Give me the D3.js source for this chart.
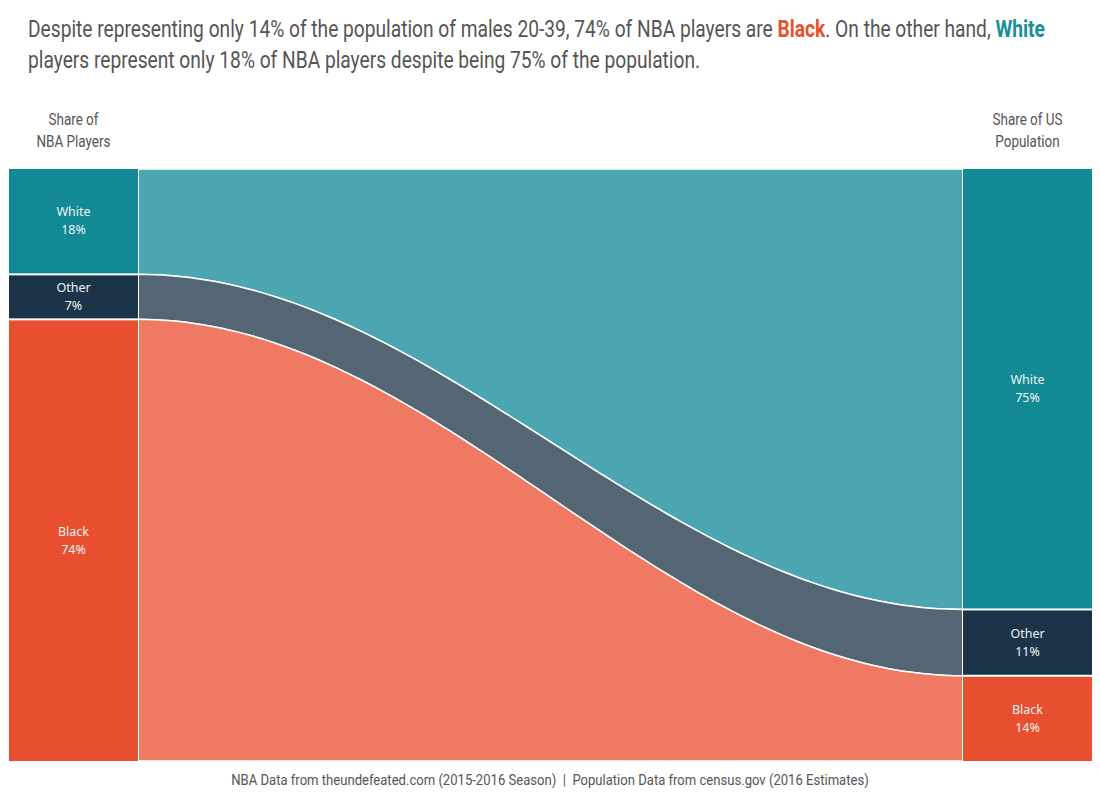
<!DOCTYPE html>
<html>
<head>
<meta charset="utf-8">
<script src="https://cdn.jsdelivr.net/npm/d3@7"></script>
<style>
  body { margin: 0; background: #fff; }
  .cond { font-family: Roboto, "DejaVu Sans", sans-serif; }
</style>
</head>
<body>
<div id="chart"></div>
<script>
// data
var groups = ["White", "Other", "Black"];
var nbaShare = [17.8, 7.6, 74.6];
var popShare = [74.4, 11.2, 14.4];
var nbaLabels = ["18%", "7%", "74%"];
var popLabels = ["75%", "11%", "14%"];
var nodeColors = ["#118a96", "#1b344a", "#e84f2f"];
var flowColors = ["#4ca6b1", "#546674", "#f07963"];

var width = 1100, height = 800;
var plotTop = 169, plotBottom = 761;
var leftX0 = 9, leftX1 = 138, rightX0 = 963, rightX1 = 1092;

var svg = d3.select("#chart")
  .append("svg")
    .attr("width", width)
    .attr("height", height);

// y scale in percent
var y = d3.scaleLinear().domain([0, 100]).range([plotTop, plotBottom]);

function stackUp(vals) {
  var acc = 0;
  return vals.map(function (v) {
    var d = {y0: acc, y1: acc + v};
    acc += v;
    return d;
  });
}
var leftStack = stackUp(nbaShare);
var rightStack = stackUp(popShare);

// flows (drawn first)
var t = d3.scaleLinear().domain([0, 1]).range([leftX1, rightX0]);
var steps = d3.range(0, 1.0001, 0.01);
var area = d3.area()
  .x(function (d) { return t(d.s); })
  .y0(function (d) { return d.a; })
  .y1(function (d) { return d.b; });

groups.forEach(function (g, i) {
  var L = leftStack[i], R = rightStack[i];
  var pts = steps.map(function (s) {
    var e = d3.easeSinInOut(s);
    return {
      s: s,
      a: y(L.y0) + (y(R.y0) - y(L.y0)) * e,
      b: y(L.y1) + (y(R.y1) - y(L.y1)) * e
    };
  });
  svg.append("path")
    .datum(pts)
    .attr("d", area)
    .attr("fill", flowColors[i])
    .attr("stroke", "#fff")
    .attr("stroke-width", 1.5);
});

// gaps between flows and nodes
svg.append("line").attr("x1", leftX1 + 0.5).attr("x2", leftX1 + 0.5)
  .attr("y1", plotTop).attr("y2", plotBottom).attr("stroke", "#fff");
svg.append("line").attr("x1", rightX0 - 0.5).attr("x2", rightX0 - 0.5)
  .attr("y1", plotTop).attr("y2", plotBottom).attr("stroke", "#fff");

// nodes
function drawNodes(stack, x0, x1, labels) {
  var g = svg.append("g");
  stack.forEach(function (d, i) {
    var y0 = y(d.y0) + (i > 0 ? 1 : 0);
    var y1 = y(d.y1) - (i < stack.length - 1 ? 1 : 0);
    g.append("rect")
      .attr("x", x0)
      .attr("y", y0)
      .attr("width", x1 - x0)
      .attr("height", y1 - y0)
      .attr("fill", nodeColors[i]);
    var cy = (y0 + y1) / 2;
    var txt = g.append("text")
      .attr("text-anchor", "middle")
      .style("font-family", "'Noto Sans', 'Open Sans', sans-serif")
      .style("font-size", "12.5px")
      .attr("fill", "#eef2f2");
    txt.append("tspan").attr("x", (x0 + x1) / 2).attr("y", cy - 5).text(groups[i]);
    txt.append("tspan").attr("x", (x0 + x1) / 2).attr("y", cy + 13).text(labels[i]);
  });
}
drawNodes(leftStack, leftX0, leftX1, nbaLabels);
drawNodes(rightStack, rightX0, rightX1, popLabels);

// squeeze a text horizontally to a target width (condensed look)
function squeeze(sel, cx, target) {
  var w = sel.node().getBBox().width;
  var k = target / w;
  sel.attr("transform", "translate(" + cx + ",0) scale(" + k + ",1) translate(" + (-cx) + ",0)");
  return k;
}

// column headers
function header(x, lines, widthTarget) {
  var txt = svg.append("text")
    .attr("class", "cond")
    .attr("text-anchor", "middle")
    .attr("fill", "#555")
    .style("font-size", "16px");
  lines.forEach(function (l, i) {
    txt.append("tspan").attr("x", x).attr("y", 125 + i * 22).text(l);
  });
  squeeze(txt, x, widthTarget);
}
header((leftX0 + leftX1) / 2, ["Share of", "NBA Players"], 74);
header((rightX0 + rightX1) / 2, ["Share of US", "Population"], 70);

// title
var title = svg.append("text")
  .attr("class", "cond")
  .attr("fill", "#555")
  .style("font-size", "23px");
var l1 = title.append("tspan").attr("x", 28).attr("y", 37);
l1.append("tspan").text("Despite representing only 14% of the population of males 20-39, 74% of NBA players are ");
l1.append("tspan").attr("font-weight", "bold").attr("fill", "#e8532f").text("Black");
l1.append("tspan").text(". On the other hand, ");
l1.append("tspan").attr("font-weight", "bold").attr("fill", "#17909c").text("White");
title.append("tspan").attr("x", 28).attr("y", 68)
  .text("players represent only 18% of NBA players despite being 75% of the population.");
squeeze(title, 28, 1018);

// footer
var footer = svg.append("text")
  .attr("class", "cond")
  .attr("x", 550)
  .attr("y", 785)
  .attr("text-anchor", "middle")
  .attr("fill", "#555")
  .style("font-size", "14.5px")
  .style("white-space", "pre")
  .text("NBA Data from theundefeated.com (2015-2016 Season)\u00a0\u00a0|\u00a0\u00a0Population Data from census.gov (2016 Estimates)");
squeeze(footer, 550, 638);
</script>
</body>
</html>
